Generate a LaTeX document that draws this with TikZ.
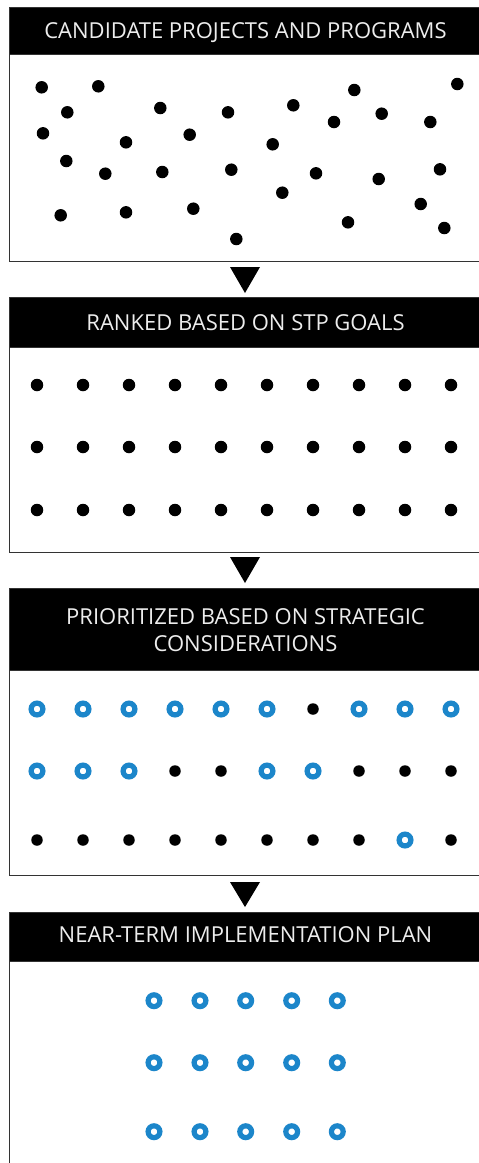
\documentclass[tikz,border=0pt]{standalone}
\usepackage{fontspec}
\setmainfont{Open Sans}
\definecolor{ringblue}{RGB}{28,134,202}
\begin{document}
\begin{tikzpicture}[x=1pt,y=-1pt,
 body/.style={draw=black!80,line width=1.3pt,fill=white,anchor=north west,inner sep=0,minimum width=490pt},
 head/.style={fill=black,draw=black!80,line width=1pt,anchor=north west,inner sep=0,minimum width=490pt},
 htext/.style={text=white!93!black,font=\fontsize{22}{26.5}\selectfont,align=center,inner sep=0},
 dot/.style={circle,fill=black,inner sep=0,minimum size=12.5pt},
 sdot/.style={circle,fill=black,inner sep=0,minimum size=11.5pt},
 ring/.style={circle,draw=ringblue,line width=5.2pt,inner sep=0,minimum size=11.8pt},
 tri/.style={fill=black}]
\useasboundingbox (0,0) rectangle (479,1163);
\clip (0,0) rectangle (479,1163);
% panel 1
\node[body,minimum height=207pt] (b1) at (8.5,54) {};
\node[head,minimum height=47pt] (h1) at (8.5,7) {};
\node[htext] (t1) at (245.5,33) {CANDIDATE PROJECTS AND PROGRAMS};
% panel 2
\node[body,minimum height=205pt] (b2) at (8.5,347) {};
\node[head,minimum height=50pt] (h2) at (8.5,297) {};
\node[htext] (t2) at (245.5,323) {RANKED BASED ON STP GOALS};
% panel 3
\node[body,minimum height=205pt] (b3) at (8.5,670) {};
\node[head,minimum height=82pt] (h3) at (8.5,588) {};
\node[htext] (t3) at (245.5,630) {PRIORITIZED BASED ON STRATEGIC\\CONSIDERATIONS};
% panel 4
\node[body,minimum height=260pt] (b4) at (8.5,961) {};
\node[head,minimum height=49pt] (h4) at (8.5,912) {};
\node[htext] (t4) at (245.5,935) {NEAR-TERM IMPLEMENTATION PLAN};
% arrows
\fill[tri] (230,267) -- (260,267) -- (245,293) -- cycle;
\fill[tri] (230,557) -- (260,557) -- (245,583) -- cycle;
\fill[tri] (230,882) -- (260,882) -- (245,907) -- cycle;
% scattered dots
\foreach \x/\y [count=\i] in {41.7/87.3,98.3/86.3,354.3/90,457.3/84,67.3/112.3,160.3/108,228/112.3,293.3/105.3,334/122,381.7/113.7,430.3/122,43/133.3,126/142.3,189.7/134.7,272.7/144.3,66.3/161,105.3/173.7,162.3/172,231.3/169.7,316/173.3,378.7/179,440/169.3,282.3/192.7,420.7/204,60.7/215.3,126/212.3,193.3/208.7,348/222.3,444.3/228,236.3/239}
  \node[dot] (s\i) at (\x,\y) {};
% ranked grid
\foreach \y [count=\r] in {385,447,510}
  \foreach \x [count=\c] in {37,83,129,175,221,267,313,359,405,451}
    \node[dot] (g\r-\c) at (\x,\y) {};
% prioritized grid
\foreach \y/\pat [count=\r] in {709/{1,1,1,1,1,1,0,1,1,1},771/{1,1,1,0,0,1,1,0,0,0},840/{0,0,0,0,0,0,0,0,1,0}}
  \foreach \x/\k [count=\c] in {37/1,83/2,129/3,175/4,221/5,267/6,313/7,359/8,405/9,451/10}{
    \pgfmathparse{{\pat}[\k-1]}
    \ifnum\pgfmathresult=1
      \node[ring] (p\r-\c) at (\x,\y) {};
    \else
      \node[sdot] (p\r-\c) at (\x,\y) {};
    \fi}
% implementation plan
\foreach \y [count=\r] in {1000.7,1062.7,1131.7}
  \foreach \x [count=\c] in {154,200,245.7,291.7,337.3}
    \node[ring] (n\r-\c) at (\x,\y) {};
\end{tikzpicture}
\end{document}
